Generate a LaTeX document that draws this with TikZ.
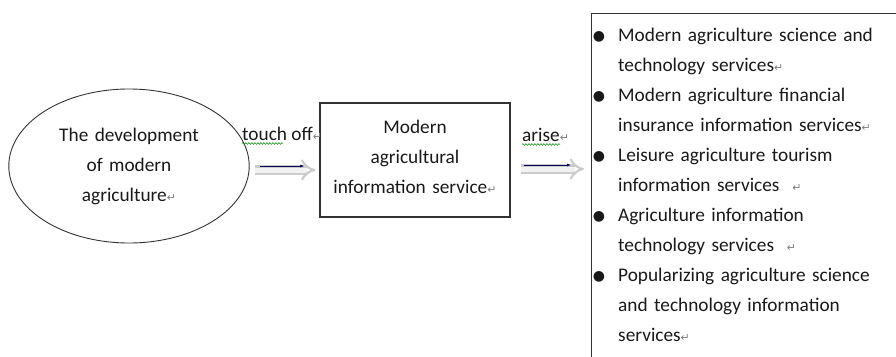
\documentclass[tikz,border=0pt]{standalone}
\usepackage{fontspec}
\setmainfont{Carlito}
\newfontfamily\dejavu{DejaVu Sans}
\usetikzlibrary{arrows.meta,shapes.geometric,decorations.pathmorphing}

\newcommand{\rtn}{{\dejavu\fontsize{11}{11}\selectfont\color{gray}↵}}
\newcommand{\blt}{\llap{\raisebox{1pt}{\dejavu\fontsize{14}{14}\selectfont ●}\hspace{13pt}}}

\begin{document}
\begin{tikzpicture}[
    x=1pt, y=-1pt,
    txt/.style={font=\fontsize{19.3}{30}\selectfont, text=black!90},
    bubble/.style={ellipse, draw=black!80, line width=0.9pt, txt,
                   minimum width=238pt, minimum height=154pt,
                   inner sep=0pt, text width=170pt, align=center},
    stage/.style={rectangle, draw=black!80, line width=1.2pt, txt,
                  minimum width=190pt, minimum height=114pt,
                  inner sep=0pt, text width=180pt, align=center},
    item/.style={txt, anchor=base west, inner sep=0pt,
                 text width=270pt, align=left},
    hint/.style={txt, anchor=base west, inner sep=0pt},
    shade/.style={draw=gray!40, line width=2.2pt, double=gray!10,
                  double distance=5pt, -{Implies}},
    arr/.style={-{Latex[length=4pt,width=3pt]}, line width=1pt, draw=blue!35!black},
    squig/.style={draw=green!55!black, line width=0.5pt,
                  decorate, decoration={snake, amplitude=0.9pt, segment length=3pt}}
]
    \useasboundingbox (0,0) rectangle (896,356);
    \clip (0,0) rectangle (896,356);

    \node[bubble] (dev) at (129,166) {The development\\of modern\\agriculture\rtn};
    \node[stage] (info) at (415,160) {Modern\\agricultural\\information service\rtn\vspace{6pt}};
    \node[rectangle, draw=black!80, line width=1.2pt, anchor=north west,
          minimum width=400pt, minimum height=400pt] (svc) at (591,13) {};

    % list of services
    \node[item] (sci) at (618,41.5) {\blt Modern agriculture science and\\technology services\rtn};
    \node[item] (fin) at (618,101.5) {\blt Modern agriculture financial\\insurance information services\rtn};
    \node[item] (tour) at (618,161.5) {\blt Leisure agriculture tourism\\information services \ \rtn};
    \node[item] (tech) at (618,221.5) {\blt Agriculture information\\technology services \ \rtn};
    \node[item] (pop) at (618,281.5) {\blt Popularizing agriculture science\\and technology information\\services\rtn};

    % labels on the arrows
    \node[hint] (trig) at (242,140.5) {touch off\rtn};
    \node[hint] (rise) at (522,141.5) {arise\rtn};
    \draw[squig] ([yshift=-3pt]trig.base west) -- ++(41,0);
    \draw[squig] ([yshift=-3pt]rise.base west) -- ++(38,0);

    \draw[shade] ([shift={(5,4)}]dev.east) -- ([shift={(-4,10)}]info.west);
    \draw[arr] ([shift={(10,0)}]dev.east) -- ([shift={(-15,6)}]info.west);
    \draw[shade] ([shift={(10,9)}]info.east) -- ([shift={(-7,156)}]svc.north west);
    \draw[arr] ([shift={(13,5)}]info.east) -- ([shift={(-20,152)}]svc.north west);
\end{tikzpicture}
\end{document}
